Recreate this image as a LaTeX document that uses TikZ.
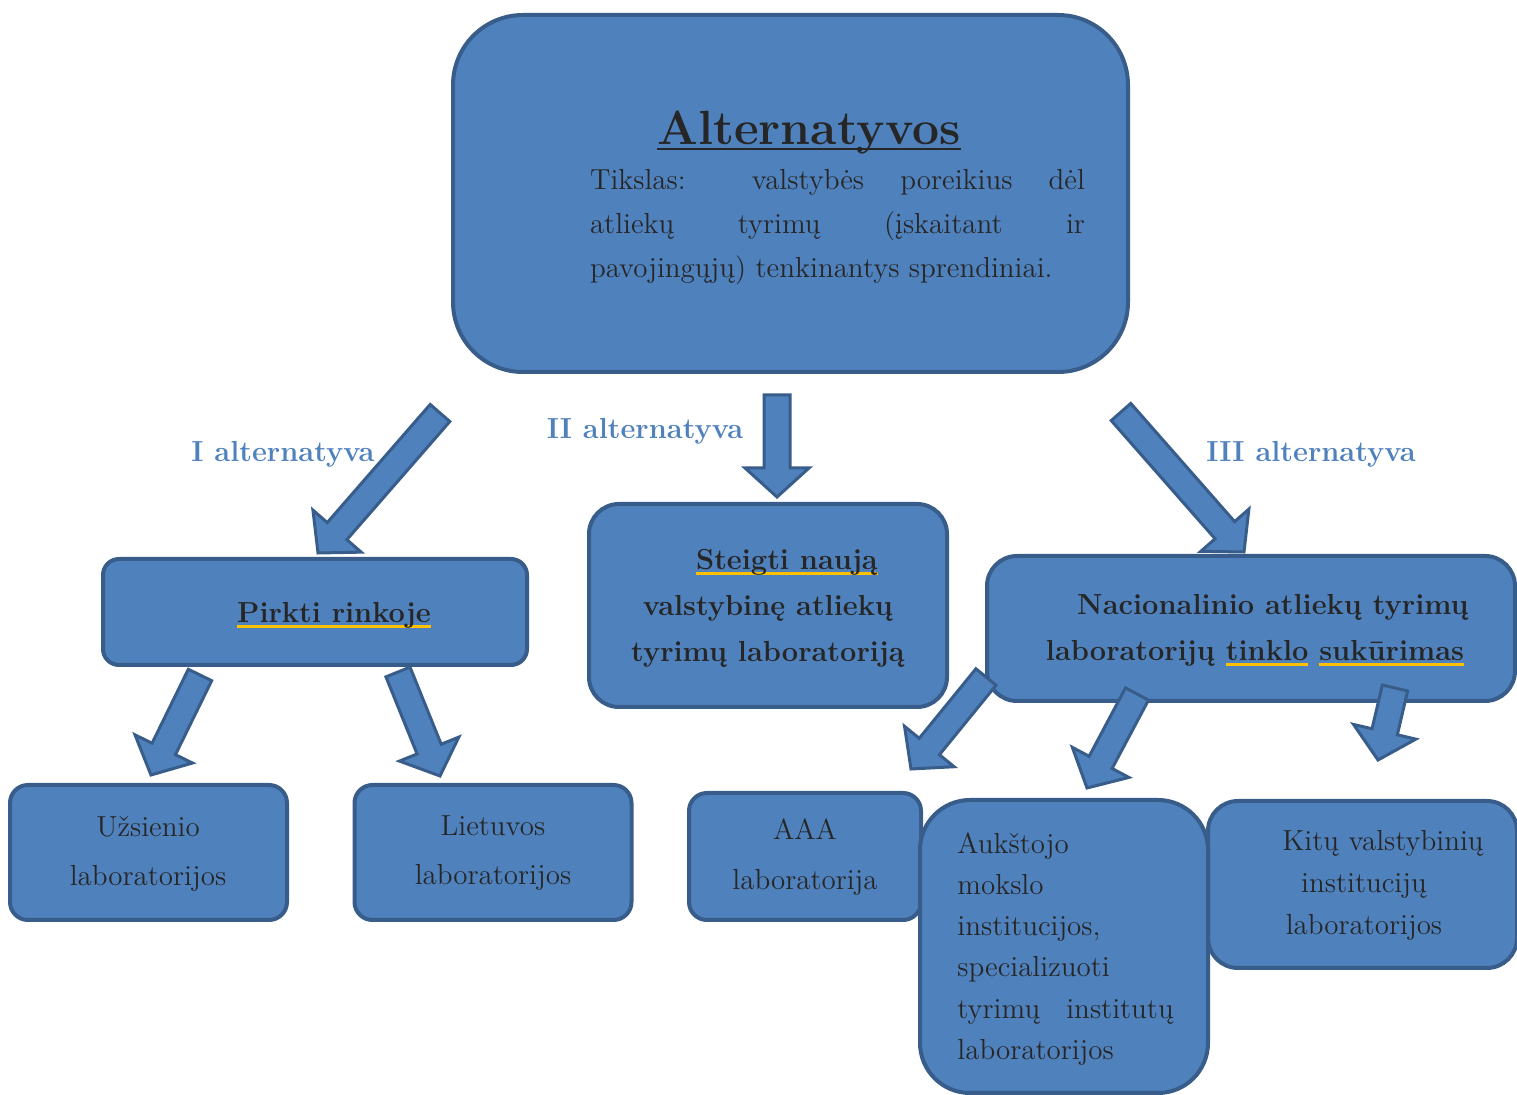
\documentclass[tikz,border=0pt]{standalone}
\usepackage{fontspec}
\usetikzlibrary{calc}
\definecolor{boxblue}{HTML}{4F81BD}
\definecolor{edgeblue}{HTML}{385D8A}
\definecolor{inkgray}{HTML}{262626}
\definecolor{spellgold}{HTML}{FFC000}
\newcommand{\goldline}[1]{\setbox0\hbox{#1}\rlap{\color{spellgold}\rule[-3pt]{\wd0}{1.7pt}}\box0\relax}
\newcommand{\inkline}[1]{\setbox0\hbox{#1}\rlap{\color{inkgray}\rule[-2.6pt]{\wd0}{1.3pt}}\box0\relax}
\newcommand{\blockarrow}[2]{%
	\coordinate (ba-base) at ($(#2)!14.5pt!(#1)$);
	\draw[blockarrow] ($(#1)!6.5pt!90:(#2)$) -- ($(ba-base)!6.5pt!-90:(#1)$) -- ($(ba-base)!16pt!-90:(#1)$) -- (#2)
		-- ($(ba-base)!16pt!90:(#1)$) -- ($(ba-base)!6.5pt!90:(#1)$) -- ($(#1)!6.5pt!-90:(#2)$) -- cycle;}

\begin{document}
\begin{tikzpicture}[x=0.5pt,y=-0.5pt]
				\tikzstyle{every node}=[text=inkgray,font=\fontsize{14.5}{24.5}\selectfont]
				\tikzstyle{box}=[draw=edgeblue,fill=boxblue,line width=2pt,inner sep=0pt]
				\tikzstyle{blockarrow}=[draw=edgeblue,fill=boxblue,line width=1.5pt,line join=miter]
				\tikzstyle{altlabel}=[text=boxblue,font=\fontsize{14.5}{17}\selectfont\bfseries]
				\tikzstyle{heading}=[font=\fontsize{14.5}{23}\selectfont\bfseries,align=center]
				\useasboundingbox (0,0) rectangle (1517,1095);
				\node[box,rounded corners=35pt,minimum width=337.5pt,minimum height=178.5pt] (goal) at (790.5,193.5) {};
				\node[box,rounded corners=8pt,minimum width=212pt,minimum height=53pt] (market) at (315,612) {};
				\node[box,rounded corners=15pt,minimum width=179pt,minimum height=101.5pt] (newlab) at (768,605.5) {};
				\node[box,rounded corners=15pt,minimum width=264pt,minimum height=72.5pt] (network) at (1251,628.5) {};
				\node[box,rounded corners=9pt,minimum width=138.5pt,minimum height=67.5pt] (foreign) at (148.5,852.5) {};
				\node[box,rounded corners=9pt,minimum width=138.5pt,minimum height=67.5pt] (local) at (493,852.5) {};
				\node[box,rounded corners=9pt,minimum width=116pt,minimum height=63.5pt] (aaa) at (805,856.5) {};
				\node[box,rounded corners=15pt,minimum width=154.5pt,minimum height=83.5pt] (state) at (1362.5,884.5) {};
				\node[box,rounded corners=25pt,minimum width=144pt,minimum height=146.5pt] (uni) at (1064,946.5) {};
				\node[anchor=base] (goaltitle) at (809,145) {\fontsize{24}{28}\selectfont\bfseries\inkline{Alternatyvos}};
				\node[text width=247.5pt,align=justify,font=\fontsize{14.5}{22}\selectfont] (goaltext) at (837.5,227)
					{Tikslas: valstybės poreikius dėl\linebreak atliekų tyrimų (įskaitant ir\linebreak pavojingųjų) tenkinantys sprendiniai.};
				\node[heading] (markettext) at (334,615) {\goldline{Pirkti rinkoje}};
				\node[heading] (newlabtext) at (768,608) {\hspace*{19pt}\goldline{Steigti naują}\\valstybinę atliekų\\tyrimų laboratoriją};
				\node[heading] (networktext) at (1255,630) {\hspace*{18pt}Nacionalinio atliekų tyrimų\\laboratorijų \goldline{tinklo} \goldline{sukūrimas}};
				\node[align=center] (foreigntext) at (148,853.5) {Užsienio\\laboratorijos};
				\node[align=center] (localtext) at (493,853.5) {Lietuvos\\laboratorijos};
				\node[align=center,font=\fontsize{14.5}{25}\selectfont] (aaatext) at (805,857) {AAA\\laboratorija};
				\node[anchor=west,inner sep=0pt,align=left,font=\fontsize{14.5}{20.6}\selectfont] (unitext) at (957,949)
					{Aukštojo\\mokslo\\institucijos,\\specializuoti\\tyrimų\hspace{0.9em}institutų\\laboratorijos};
				\node[align=center,font=\fontsize{14.5}{21}\selectfont] (statetext) at (1364,885) {\hspace*{19pt}Kitų valstybinių\\institucijų\\laboratorijos};
				\coordinate (alt1-tail) at (440,413);
				\coordinate (alt1-tip) at (318,553);
				\coordinate (alt2-tail) at (777,395);
				\coordinate (alt2-tip) at (777,497);
				\coordinate (alt3-tail) at (1121,412);
				\coordinate (alt3-tip) at (1244,552);
				\coordinate (foreign-tail) at (200,675);
				\coordinate (foreign-tip) at (151,775);
				\coordinate (local-tail) at (398,672);
				\coordinate (local-tip) at (440,776);
				\coordinate (aaa-tail) at (986,677);
				\coordinate (aaa-tip) at (911,769);
				\coordinate (uni-tail) at (1137,694);
				\coordinate (uni-tip) at (1087,788);
				\coordinate (state-tail) at (1395,688);
				\coordinate (state-tip) at (1378,760);
				\blockarrow{alt1-tail}{alt1-tip}
				\blockarrow{alt2-tail}{alt2-tip}
				\blockarrow{alt3-tail}{alt3-tip}
				\blockarrow{foreign-tail}{foreign-tip}
				\blockarrow{local-tail}{local-tip}
				\blockarrow{aaa-tail}{aaa-tip}
				\blockarrow{uni-tail}{uni-tip}
				\blockarrow{state-tail}{state-tip}
				\node[altlabel] (alt1) at (283,454) {I alternatyva};
				\node[altlabel] (alt2) at (645,431) {II alternatyva};
				\node[altlabel] (alt3) at (1311,454) {III alternatyva};
\end{tikzpicture}
\end{document}
